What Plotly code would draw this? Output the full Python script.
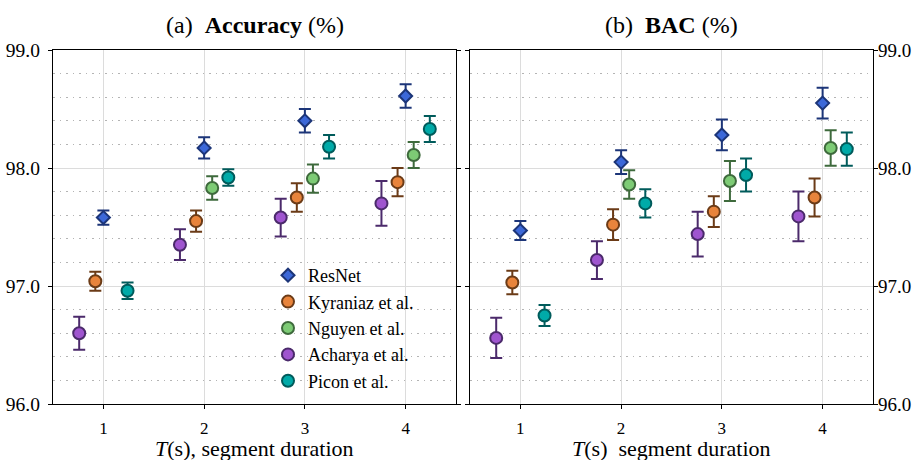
import plotly.graph_objects as go

# Segment durations (s)
T = [1, 2, 3, 4]

# (a) Accuracy (%) — mean and half-width of the error bar
acc_resnet = [97.58, 98.17, 98.40, 98.61]
acc_resnet_err = [0.06, 0.09, 0.10, 0.10]
acc_kyraniaz = [97.04, 97.55, 97.75, 97.88]
acc_kyraniaz_err = [0.08, 0.09, 0.12, 0.12]
acc_nguyen = [None, 97.83, 97.91, 98.11]
acc_nguyen_err = [None, 0.10, 0.12, 0.11]
acc_acharya = [96.60, 97.35, 97.58, 97.70]
acc_acharya_err = [0.14, 0.13, 0.16, 0.19]
acc_picon = [96.96, 97.92, 98.18, 98.33]
acc_picon_err = [0.07, 0.07, 0.10, 0.11]

# (b) BAC (%)
bac_resnet = [97.47, 98.05, 98.28, 98.55]
bac_resnet_err = [0.08, 0.10, 0.13, 0.13]
bac_kyraniaz = [97.03, 97.52, 97.63, 97.75]
bac_kyraniaz_err = [0.10, 0.13, 0.13, 0.16]
bac_nguyen = [None, 97.86, 97.89, 98.17]
bac_nguyen_err = [None, 0.12, 0.17, 0.15]
bac_acharya = [96.56, 97.22, 97.44, 97.59]
bac_acharya_err = [0.17, 0.16, 0.19, 0.21]
bac_picon = [96.75, 97.70, 97.94, 98.16]
bac_picon_err = [0.09, 0.12, 0.14, 0.14]

y_ticks = [96, 97, 98, 99]
x_ticks = [1, 2, 3, 4]

methods = ["ResNet", "Kyraniaz et al.", "Nguyen et al.", "Acharya et al.", "Picon et al."]

# Drawing style per method: horizontal dodge, marker symbol, fill and edge colours
style = {
    "ResNet":          dict(dx=0.00,  symbol="diamond", size=10, fill="#3c68d8", edge="#1c3578"),
    "Kyraniaz et al.": dict(dx=-0.08, symbol="circle", size=12, fill="#e8843c", edge="#6b3b17"),
    "Nguyen et al.":   dict(dx=0.08,  symbol="circle", size=12, fill="#7dcb75", edge="#3e6a3c"),
    "Acharya et al.":  dict(dx=-0.24, symbol="circle", size=12, fill="#9f55cf", edge="#4b2a6b"),
    "Picon et al.":    dict(dx=0.24,  symbol="circle", size=12, fill="#00aaa8", edge="#005b5b"),
}

panel_data = [
    ("x", "y", {
        "ResNet": (acc_resnet, acc_resnet_err),
        "Kyraniaz et al.": (acc_kyraniaz, acc_kyraniaz_err),
        "Nguyen et al.": (acc_nguyen, acc_nguyen_err),
        "Acharya et al.": (acc_acharya, acc_acharya_err),
        "Picon et al.": (acc_picon, acc_picon_err),
    }, True),
    ("x2", "y2", {
        "ResNet": (bac_resnet, bac_resnet_err),
        "Kyraniaz et al.": (bac_kyraniaz, bac_kyraniaz_err),
        "Nguyen et al.": (bac_nguyen, bac_nguyen_err),
        "Acharya et al.": (bac_acharya, bac_acharya_err),
        "Picon et al.": (bac_picon, bac_picon_err),
    }, False),
]

FONT = "Liberation Serif"

fig = go.Figure()
for xa, ya, series, show_legend in panel_data:
    for name in methods:
        vals, errs = series[name]
        s = style[name]
        fig.add_trace(go.Scatter(
            x=[t + s["dx"] for t in T],
            y=vals,
            mode="markers",
            name=name,
            xaxis=xa, yaxis=ya,
            showlegend=show_legend,
            marker=dict(symbol=s["symbol"], size=s["size"], color=s["fill"],
                        line=dict(color=s["edge"], width=2)),
            error_y=dict(type="data", array=errs, visible=True,
                         color=s["edge"], thickness=2, width=6),
            cliponaxis=False,
        ))

W, H = 916, 460
left_dom = [53 / W, 456 / W]
right_dom = [470 / W, 873 / W]
y_dom = [1 - 404 / H, 1 - 50 / H]

common_x = dict(
    range=[0.5, 4.5], tickvals=x_ticks, ticktext=[str(v) for v in x_ticks],
    showgrid=True, gridcolor="#dcdcdc", gridwidth=1,
    ticks="outside", ticklen=4, tickcolor="black", tickwidth=1,
    showline=True, linecolor="black", linewidth=1.3, mirror=True,
    zeroline=False, automargin=False,
    tickfont=dict(family=FONT, size=17, color="black"),
    ticklabelstandoff=4,
)
common_y = dict(
    range=[96, 99], tickvals=y_ticks, tickformat=".1f",
    showgrid=True, gridcolor="#dcdcdc", gridwidth=1,
    minor=dict(dtick=0.2, showgrid=True, griddash="1.5px,5px",
               gridcolor="#b4b4b4", gridwidth=1),
    ticks="outside", ticklen=4, tickcolor="black", tickwidth=1,
    showline=True, linecolor="black", linewidth=1.3, mirror="ticks",
    zeroline=False, automargin=False,
)

fig.update_layout(
    template="none",
    width=W, height=H,
    margin=dict(l=0, r=0, t=0, b=0, pad=0),
    paper_bgcolor="white", plot_bgcolor="white",
    font=dict(family=FONT, color="black"),
    xaxis=dict(domain=left_dom, anchor="y", **common_x),
    yaxis=dict(domain=y_dom, anchor="x", side="left", ticklabelstandoff=4,
               tickfont=dict(family=FONT, size=19.5, color="black"), **common_y),
    xaxis2=dict(domain=right_dom, anchor="y2", **common_x),
    yaxis2=dict(domain=y_dom, anchor="x2", side="right", ticklabelstandoff=-4,
                tickfont=dict(family=FONT, size=19, color="black"), **common_y),
    legend=dict(x=268 / W, y=1 - 257 / H, xanchor="left", yanchor="top",
                bgcolor="rgba(0,0,0,0)", borderwidth=0,
                font=dict(family=FONT, size=18, color="black"),
                tracegroupgap=0),
    showlegend=True,
)

annotations = [
    dict(text="(a)  <b>Accuracy</b> (%)", x=sum(left_dom) / 2, y=1 - 25 / H, size=24),
    dict(text="(b)  <b>BAC</b> (%)", x=sum(right_dom) / 2, y=1 - 25 / H, size=24),
    dict(text="<i>T</i>(s), segment duration", x=sum(left_dom) / 2, y=1 - 448 / H, size=22),
    dict(text="<i>T</i>(s)  segment duration", x=sum(right_dom) / 2, y=1 - 448 / H, size=22),
]
for a in annotations:
    fig.add_annotation(
        text=a["text"], x=a["x"], y=a["y"], xref="paper", yref="paper",
        xanchor="center", yanchor="middle", showarrow=False,
        font=dict(family=FONT, size=a["size"], color="black"),
    )

fig.write_html("out.html")
